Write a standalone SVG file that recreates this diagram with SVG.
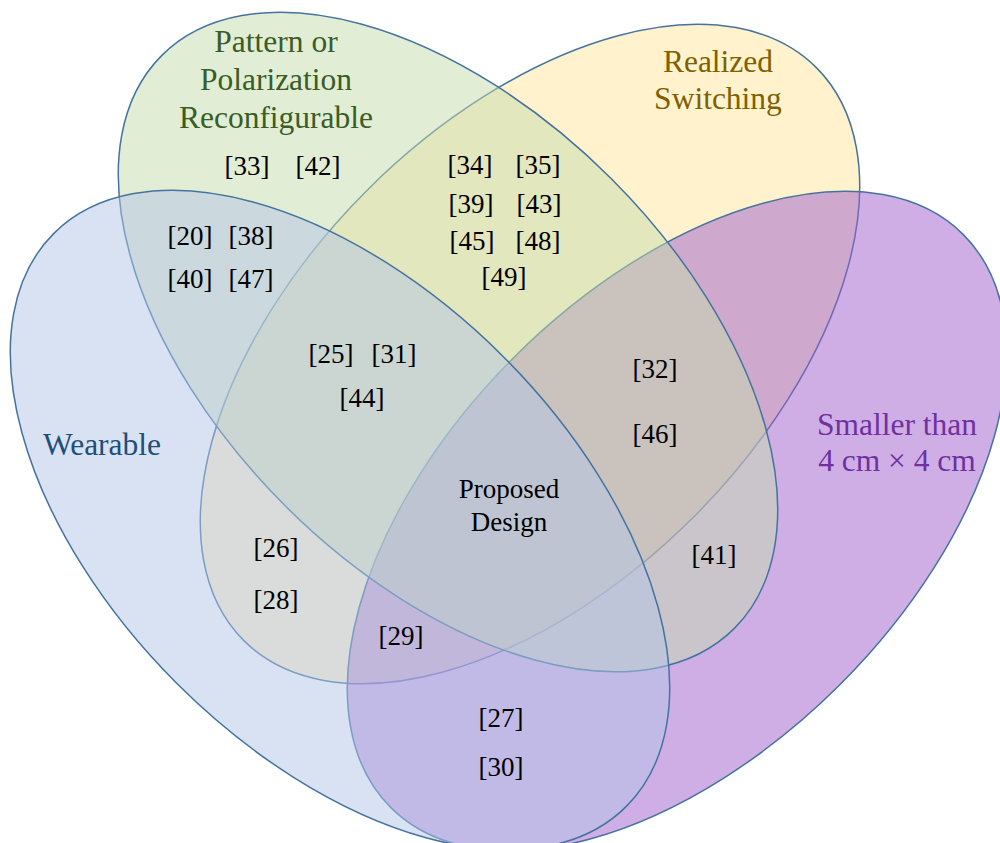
<svg xmlns="http://www.w3.org/2000/svg" width="1000" height="843" viewBox="0 0 1000 843" font-family="'Liberation Serif', 'Times New Roman', serif">
  <style>
    .set { stroke: #44739f; stroke-width: 1.5; fill-opacity: 0.5; }
    .title { font-family: 'Liberation Serif', 'Times New Roman', serif; font-size: 31.5px; text-anchor: middle; }
    .ref { font-family: 'Liberation Serif', 'Times New Roman', serif; font-size: 27px; text-anchor: middle; fill: #000000; }
  </style>
  <rect width="1000" height="843" fill="#ffffff"/>

  <!-- Four overlapping sets, bottom to top -->
  <g id="set-switching">
    <ellipse class="set" cx="0" cy="0" rx="405" ry="231" fill="#ffe599" transform="translate(530 354) rotate(-45)"/>
    <text class="title" fill="#7f6000" x="718" y="72">Realized</text>
    <text class="title" fill="#7f6000" x="718" y="109">Switching</text>
  </g>

  <g id="set-small">
    <ellipse class="set" cx="0" cy="0" rx="405" ry="231" fill="#9f5dcd" transform="translate(677 521) rotate(-45)"/>
    <text class="title" fill="#7030a0" x="897" y="435">Smaller than</text>
    <text class="title" fill="#7030a0" x="897" y="471">4 cm × 4 cm</text>
  </g>

  <g id="set-reconfigurable">
    <ellipse class="set" cx="0" cy="0" rx="405" ry="231" fill="#c5dbad" transform="translate(448 342) rotate(45)"/>
    <text class="title" fill="#3a5c25" x="276" y="52">Pattern or</text>
    <text class="title" fill="#3a5c25" x="276" y="90">Polarization</text>
    <text class="title" fill="#3a5c25" x="276" y="128">Reconfigurable</text>
  </g>

  <g id="set-wearable">
    <ellipse class="set" cx="0" cy="0" rx="405" ry="231" fill="#b3c5e7" transform="translate(340 520) rotate(45)"/>
    <text class="title" fill="#1f4e79" x="102" y="455">Wearable</text>
  </g>

  <!-- Reference numbers placed in each intersection region -->
  <g id="region-labels" font-family="'Liberation Serif', 'Times New Roman', serif">
    <text class="ref" x="247" y="175">[33]</text>
    <text class="ref" x="318" y="175">[42]</text>

    <text class="ref" x="470" y="174">[34]</text>
    <text class="ref" x="538" y="174">[35]</text>
    <text class="ref" x="471" y="213">[39]</text>
    <text class="ref" x="539" y="213">[43]</text>
    <text class="ref" x="472" y="250">[45]</text>
    <text class="ref" x="538" y="250">[48]</text>
    <text class="ref" x="504" y="286">[49]</text>

    <text class="ref" x="190" y="245">[20]</text>
    <text class="ref" x="251" y="245">[38]</text>
    <text class="ref" x="190" y="288">[40]</text>
    <text class="ref" x="251" y="288">[47]</text>

    <text class="ref" x="331" y="363">[25]</text>
    <text class="ref" x="394" y="363">[31]</text>
    <text class="ref" x="362" y="407">[44]</text>

    <text class="ref" x="655" y="378">[32]</text>
    <text class="ref" x="655" y="443">[46]</text>

    <text class="ref" x="276" y="557">[26]</text>
    <text class="ref" x="276" y="609">[28]</text>

    <text class="ref" x="401" y="645">[29]</text>
    <text class="ref" x="714" y="564">[41]</text>

    <text class="ref" x="501" y="727">[27]</text>
    <text class="ref" x="501" y="776">[30]</text>
  </g>

  <g id="center-label" font-family="'Liberation Serif', 'Times New Roman', serif">
    <text class="ref" x="509" y="498">Proposed</text>
    <text class="ref" x="509" y="531">Design</text>
  </g>
</svg>
